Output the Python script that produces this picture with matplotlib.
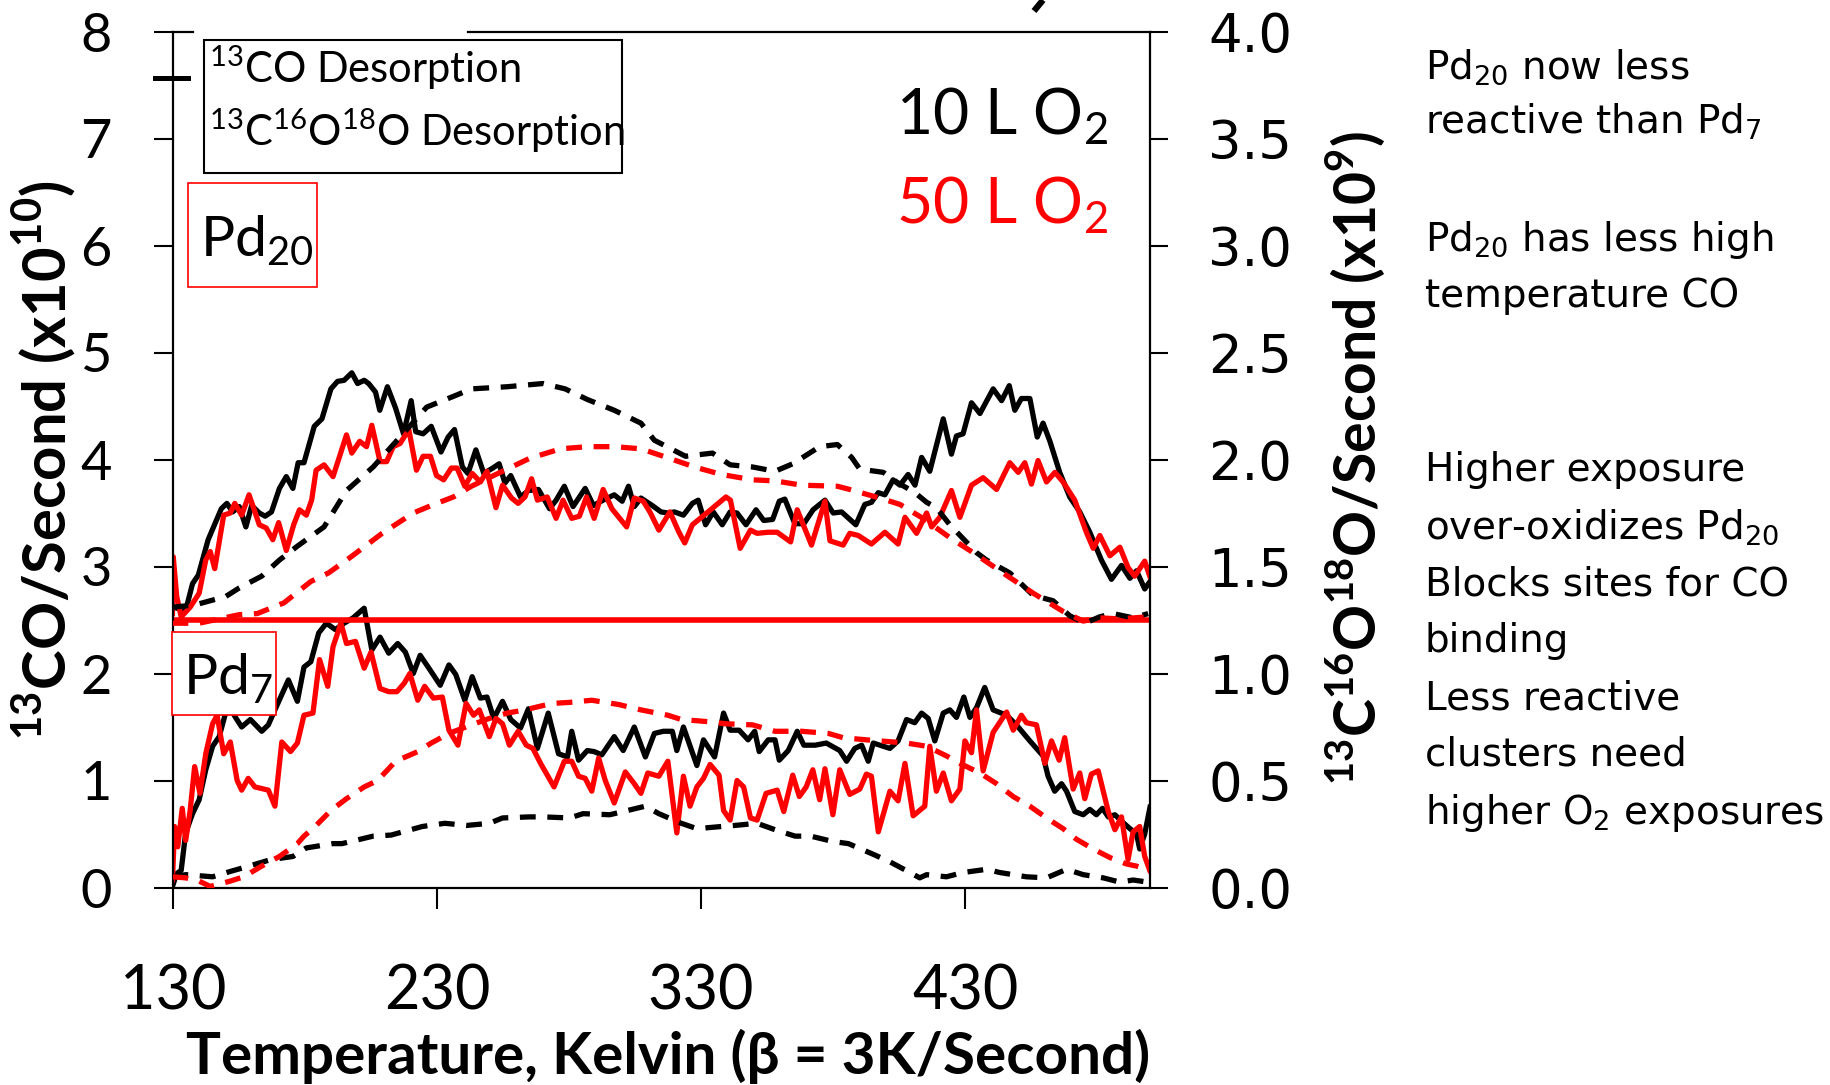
import numpy as np
import matplotlib
matplotlib.use('Agg')
import matplotlib.pyplot as plt
from matplotlib.patches import Rectangle
from matplotlib.lines import Line2D

# [temperature K, value]
# solid = 13CO (left axis), dashed = 13C16O18O (right axis, x1e9)
# Pd20 traces sit on an offset of 2.5 (left) / 1.25 (right)
pd20_10L_co = [
    [130, 2.62], [134.8, 2.59], [137.4, 2.84], [139.6, 2.92], [143.3, 3.25], [148.3, 3.54],
    [150.4, 3.59], [152.6, 3.51], [155.1, 3.56], [157.6, 3.37], [159.8, 3.57], [162.7, 3.50],
    [164.9, 3.47], [167.3, 3.51], [170.3, 3.73], [172.9, 3.84], [175.4, 3.73], [177.4, 3.97],
    [179.6, 3.97], [183.5, 4.31], [186.4, 4.38], [189.8, 4.66], [192.3, 4.73], [194.8, 4.74],
    [197.7, 4.81], [199.9, 4.71], [202.4, 4.74], [204.1, 4.71], [206.7, 4.63], [208.3, 4.46],
    [211.2, 4.68], [214.3, 4.48], [217.3, 4.24], [220.2, 4.55], [221.9, 4.26], [224.7, 4.24],
    [227.8, 4.31], [231.5, 4.07], [234.2, 4.21], [236.6, 4.28], [239.6, 3.93], [241.7, 3.87],
    [244.7, 4.09], [247.7, 3.87], [251.1, 3.92], [253.5, 3.96], [255.7, 3.78], [257.9, 3.85],
    [261.6, 3.65], [264.6, 3.71], [268.4, 3.72], [272.6, 3.54], [275.1, 3.62], [278.2, 3.75],
    [281.5, 3.56], [286.1, 3.73], [289.2, 3.57], [292.9, 3.62], [297.1, 3.67], [300.1, 3.61],
    [302.5, 3.75], [304.7, 3.56], [307.2, 3.64], [311.5, 3.57], [314.8, 3.51], [317.4, 3.50],
    [319.9, 3.51], [323.3, 3.48], [326.7, 3.59], [328.9, 3.62], [331.7, 3.39], [334.6, 3.51],
    [338.0, 3.39], [341.0, 3.51], [343.6, 3.50], [347.0, 3.39], [350.8, 3.53], [353.7, 3.43],
    [357.1, 3.44], [359.6, 3.61], [361.7, 3.63], [365.5, 3.40], [368.9, 3.40], [372.4, 3.53],
    [376.9, 3.62], [380.0, 3.50], [383.2, 3.51], [388.6, 3.39], [392.0, 3.58], [394.5, 3.60],
    [397.1, 3.69], [399.6, 3.67], [402.7, 3.81], [405.3, 3.76], [408.4, 3.86], [411.0, 3.76],
    [413.5, 4.02], [416.6, 3.89], [421.7, 4.38], [424.8, 4.05], [426.7, 4.22], [429.2, 4.24],
    [432.4, 4.53], [435.6, 4.43], [440.6, 4.66], [443.8, 4.55], [446.7, 4.69], [448.8, 4.46],
    [451.3, 4.57], [454.5, 4.57], [457.3, 4.21], [459.5, 4.34], [462.1, 4.17], [465.8, 3.88],
    [469.6, 3.65], [473.4, 3.51], [477.2, 3.32], [481.6, 3.06], [485.4, 2.88], [489.2, 3.01],
    [492.4, 2.89], [494.9, 2.96], [498.0, 2.79], [500, 2.86],
]
pd20_50L_co = [
    [129.8, 2.56], [130.1, 3.09], [131.4, 2.72], [133.1, 2.53], [136.5, 2.62], [139.9, 2.75],
    [142.4, 3.06], [144.1, 3.14], [145.8, 2.98], [149.2, 3.48], [151.7, 3.50], [153.4, 3.59],
    [156.0, 3.48], [158.8, 3.67], [162.7, 3.39], [165.3, 3.36], [167.8, 3.25], [170.0, 3.41],
    [172.9, 3.15], [175.7, 3.39], [177.9, 3.53], [180.5, 3.48], [182.5, 3.62], [184.2, 3.90],
    [187.2, 3.95], [190.6, 3.84], [193.1, 4.03], [195.7, 4.23], [197.7, 4.06], [200.7, 4.17],
    [203.3, 4.12], [205.3, 4.32], [208.4, 3.98], [210.9, 3.98], [213.4, 4.12], [216.0, 4.15],
    [219.3, 4.28], [222.2, 3.90], [224.7, 4.03], [227.5, 4.03], [229.8, 3.85], [232.5, 3.81],
    [235.4, 3.92], [237.6, 3.92], [240.5, 3.75], [243.3, 3.87], [246.4, 3.79], [248.9, 3.89],
    [252.3, 3.55], [254.8, 3.76], [258.2, 3.64], [260.7, 3.59], [263.3, 3.65], [265.8, 3.82],
    [268.0, 3.62], [271.7, 3.65], [275.1, 3.45], [277.7, 3.62], [281.0, 3.45], [283.9, 3.47],
    [286.6, 3.65], [289.5, 3.45], [292.9, 3.72], [296.2, 3.54], [301.8, 3.37], [304.7, 3.64],
    [308.1, 3.61], [310.6, 3.51], [314.0, 3.34], [318.2, 3.51], [321.6, 3.32], [323.8, 3.22],
    [326.7, 3.39], [332.6, 3.51], [339.4, 3.65], [341.1, 3.62], [344.8, 3.17], [348.7, 3.34],
    [351.2, 3.31], [355.4, 3.32], [358.8, 3.32], [363.9, 3.23], [366.4, 3.53], [371.8, 3.20],
    [376.9, 3.61], [378.8, 3.24], [383.8, 3.20], [386.3, 3.31], [389.5, 3.29], [394.5, 3.21],
    [399.6, 3.32], [404.6, 3.21], [407.2, 3.46], [411.6, 3.31], [415.4, 3.50], [417.3, 3.37],
    [420.4, 3.46], [424.8, 3.71], [428.0, 3.46], [432.4, 3.76], [436.8, 3.83], [441.9, 3.72],
    [446.9, 3.97], [450.1, 3.88], [452.6, 3.97], [455.1, 3.77], [457.6, 3.99], [460.8, 3.79],
    [464.0, 3.88], [467.1, 3.79], [471.5, 3.62], [475.9, 3.32], [478.5, 3.17], [481.0, 3.29],
    [484.8, 3.10], [488.6, 3.18], [491.7, 2.99], [494.2, 2.91], [498.0, 3.05], [499.9, 2.91],
]
pd20_10L_o2 = [
    [129.8, 1.31], [138.2, 1.32], [150.0, 1.36], [155.1, 1.40], [163.6, 1.455], [170.3, 1.53],
    [177.1, 1.595], [187.2, 1.685], [195.7, 1.855], [205.8, 1.965], [216.0, 2.105], [226.1, 2.245],
    [236.2, 2.295], [243.0, 2.33], [256.5, 2.34], [270.1, 2.355], [278.5, 2.33], [287.0, 2.28],
    [297.1, 2.23], [307.2, 2.17], [312.3, 2.09], [324.1, 2.015], [334.3, 2.03], [341.0, 1.975],
    [349.5, 1.965], [358.0, 1.945], [364.7, 1.98], [374.9, 2.06], [381.6, 2.07], [387.0, 2.01],
    [390.1, 1.955], [399.0, 1.94], [404.0, 1.895], [411.0, 1.845], [415.4, 1.80], [419.1, 1.775],
    [424.2, 1.695], [434.3, 1.565], [438.1, 1.53], [446.9, 1.47], [455.8, 1.365], [463.3, 1.34],
    [469.6, 1.27], [475.3, 1.235], [481.0, 1.265], [486.0, 1.28], [493.6, 1.26], [499.3, 1.28],
]
pd20_50L_o2 = [
    [129.8, 1.235], [139.9, 1.235], [155.1, 1.275], [161.9, 1.28], [172.0, 1.33], [182.2, 1.43],
    [188.9, 1.47], [197.4, 1.545], [209.2, 1.655], [221.0, 1.75], [227.8, 1.785], [236.2, 1.825],
    [243.0, 1.875], [253.1, 1.935], [265.0, 2.005], [276.8, 2.05], [287.0, 2.06], [297.1, 2.06],
    [307.2, 2.05], [315.7, 2.015], [327.5, 1.965], [337.7, 1.93], [349.5, 1.905], [358.0, 1.90],
    [368.1, 1.88], [381.6, 1.875], [386.3, 1.86], [399.0, 1.815], [405.3, 1.79], [414.0, 1.725],
    [424.2, 1.635], [433.0, 1.565], [443.1, 1.48], [455.8, 1.375], [467.1, 1.29], [474.7, 1.245],
    [481.0, 1.26], [488.6, 1.255], [499.3, 1.265],
]
pd7_10L_co = [
    [129.8, 0.01], [131.4, 0.13], [133.1, 0.16], [134.8, 0.51], [137.4, 0.69], [139.9, 0.82],
    [142.4, 1.10], [145.0, 1.32], [147.5, 1.41], [150.9, 1.72], [153.4, 1.60], [156.0, 1.50],
    [159.3, 1.57], [163.6, 1.46], [166.1, 1.52], [168.6, 1.66], [173.7, 1.94], [177.1, 1.74],
    [179.6, 2.06], [182.2, 2.11], [185.2, 2.38], [188.1, 2.47], [191.5, 2.41], [194.8, 2.47],
    [198.2, 2.52], [202.4, 2.61], [205.3, 2.22], [208.4, 2.34], [211.7, 2.19], [215.1, 2.28],
    [218.0, 2.20], [221.0, 2.00], [223.6, 2.17], [226.9, 2.05], [231.2, 1.89], [234.5, 2.08],
    [237.1, 1.99], [240.5, 1.75], [243.3, 1.97], [246.4, 1.77], [248.9, 1.78], [251.5, 1.58],
    [254.8, 1.74], [257.9, 1.57], [261.6, 1.49], [264.6, 1.67], [268.0, 1.30], [272.1, 1.63],
    [276.0, 1.25], [279.4, 1.22], [281.0, 1.46], [283.6, 1.19], [286.9, 1.28], [289.5, 1.27],
    [292.4, 1.24], [297.1, 1.41], [300.5, 1.28], [304.7, 1.50], [308.9, 1.22], [312.3, 1.44],
    [315.7, 1.46], [319.1, 1.46], [320.8, 1.28], [323.3, 1.50], [328.4, 1.14], [330.9, 1.38],
    [335.1, 1.22], [338.5, 1.63], [341.0, 1.47], [344.4, 1.47], [347.8, 1.38], [350.3, 1.46],
    [352.0, 1.27], [355.4, 1.38], [358.0, 1.38], [359.6, 1.19], [363.0, 1.28], [366.4, 1.46],
    [368.9, 1.33], [373.2, 1.33], [377.4, 1.35], [382.5, 1.28], [385.1, 1.18], [388.2, 1.30],
    [390.8, 1.33], [393.3, 1.18], [395.2, 1.35], [401.5, 1.30], [404.6, 1.37], [407.8, 1.57],
    [410.9, 1.54], [413.5, 1.63], [416.0, 1.58], [418.5, 1.37], [421.7, 1.63], [424.2, 1.66],
    [426.7, 1.59], [429.5, 1.78], [431.8, 1.59], [434.3, 1.68], [437.4, 1.87], [440.6, 1.66],
    [445.7, 1.61], [449.4, 1.52], [454.5, 1.37], [459.5, 1.23], [461.4, 1.04], [463.9, 0.90],
    [466.5, 0.97], [468.4, 0.90], [471.5, 0.71], [474.7, 0.68], [477.2, 0.73], [479.7, 0.68],
    [482.0, 0.74], [484.2, 0.66], [486.7, 0.68], [489.2, 0.62], [492.4, 0.55], [494.9, 0.50],
    [496.1, 0.36], [498.0, 0.50], [500, 0.75],
]
pd7_50L_co = [
    [129.8, 0.07], [130.6, 0.57], [131.8, 0.38], [133.5, 0.74], [134.8, 0.44], [136.5, 0.72],
    [138.2, 1.13], [140.2, 0.88], [142.4, 1.25], [145.0, 1.53], [146.7, 1.61], [149.2, 1.25],
    [151.7, 1.36], [154.3, 1.00], [156.0, 0.91], [158.5, 1.02], [161.0, 0.94], [166.1, 0.91],
    [168.6, 0.76], [171.2, 1.36], [174.5, 1.27], [177.1, 1.35], [179.6, 1.61], [183.0, 1.63],
    [185.5, 2.13], [188.6, 1.88], [190.6, 2.25], [193.6, 2.47], [195.7, 2.28], [199.1, 2.30],
    [202.4, 2.05], [205.0, 2.20], [208.4, 1.86], [211.7, 1.83], [214.8, 1.83], [217.6, 1.91],
    [219.7, 2.00], [222.7, 1.75], [225.3, 1.88], [228.6, 1.77], [232.0, 1.78], [234.5, 1.47],
    [237.9, 1.33], [241.0, 1.72], [243.8, 1.61], [246.0, 1.66], [249.8, 1.41], [252.3, 1.58],
    [254.8, 1.53], [257.4, 1.33], [260.7, 1.46], [263.8, 1.33], [266.3, 1.30], [269.2, 1.16],
    [274.3, 0.94], [278.2, 1.18], [281.0, 1.18], [283.6, 1.04], [286.1, 1.02], [288.6, 0.90],
    [291.2, 1.21], [293.7, 1.00], [297.1, 0.79], [301.3, 1.08], [304.7, 0.97], [307.2, 0.88],
    [309.8, 1.07], [314.0, 1.04], [317.4, 1.18], [320.8, 0.51], [323.3, 1.04], [325.8, 0.76],
    [328.4, 0.94], [330.9, 1.02], [333.4, 1.15], [336.8, 1.05], [338.5, 0.72], [341.0, 0.63],
    [343.6, 1.00], [346.1, 0.94], [348.7, 0.65], [351.2, 0.63], [354.6, 0.88], [358.8, 0.91],
    [361.3, 0.71], [364.7, 1.05], [367.2, 0.85], [369.8, 0.94], [372.3, 1.10], [374.9, 0.82],
    [376.9, 1.11], [379.9, 0.68], [382.5, 1.10], [386.3, 0.87], [390.1, 0.92], [392.6, 1.06],
    [394.5, 1.04], [397.1, 0.52], [401.5, 0.90], [404.6, 0.81], [407.2, 1.16], [410.3, 0.67],
    [414.7, 0.76], [416.6, 1.32], [419.1, 0.90], [421.7, 1.07], [424.8, 0.81], [428.0, 0.92],
    [429.9, 1.37], [432.4, 1.26], [434.3, 1.66], [436.8, 1.09], [440.6, 1.45], [445.7, 1.64],
    [448.2, 1.47], [451.3, 1.61], [453.2, 1.54], [457.0, 1.52], [460.2, 1.16], [462.7, 1.37],
    [465.6, 1.19], [467.7, 1.40], [470.9, 0.92], [473.4, 1.07], [475.3, 0.83], [477.8, 1.06],
    [480.4, 1.09], [484.2, 0.71], [486.7, 0.54], [489.2, 0.66], [491.7, 0.26], [493.6, 0.52],
    [496.1, 0.57], [498.0, 0.29], [499.9, 0.16],
]
pd7_10L_o2 = [
    [129.8, 0.05], [134.8, 0.06], [145.0, 0.05], [151.7, 0.075], [160.2, 0.105], [166.9, 0.13],
    [175.4, 0.145], [180.5, 0.185], [190.6, 0.205], [194.0, 0.205], [205.8, 0.24], [212.6, 0.245],
    [224.4, 0.285], [232.9, 0.30], [241.3, 0.29], [249.8, 0.30], [254.8, 0.325], [265.0, 0.33],
    [270.1, 0.33], [280.2, 0.325], [285.3, 0.345], [295.4, 0.34], [300.5, 0.355], [308.9, 0.38],
    [314.0, 0.345], [322.5, 0.30], [328.4, 0.275], [337.7, 0.285], [342.8, 0.29], [351.2, 0.30],
    [358.0, 0.27], [365.6, 0.24], [371.5, 0.24], [379.9, 0.215], [385.8, 0.205], [395.2, 0.155],
    [401.5, 0.12], [409.1, 0.07], [412.8, 0.045], [415.4, 0.06], [422.9, 0.05], [429.2, 0.07],
    [438.1, 0.085], [443.1, 0.07], [453.2, 0.05], [460.8, 0.045], [468.4, 0.085], [474.7, 0.06],
    [482.3, 0.045], [488.6, 0.025], [493.6, 0.035], [499.3, 0.025],
]
pd7_50L_o2 = [
    [129.8, 0.05], [134.8, 0.045], [139.9, 0.03], [144.1, 0.005], [151.7, 0.03], [156.8, 0.05],
    [163.6, 0.10], [170.3, 0.145], [177.1, 0.205], [179.6, 0.24], [183.8, 0.285], [189.8, 0.36],
    [195.7, 0.415], [202.4, 0.47], [207.5, 0.50], [214.3, 0.59], [222.7, 0.635], [227.8, 0.675],
    [234.5, 0.72], [243.0, 0.76], [249.8, 0.79], [256.5, 0.815], [263.3, 0.83], [273.4, 0.86],
    [280.2, 0.865], [288.6, 0.875], [298.8, 0.855], [307.2, 0.83], [317.4, 0.805], [322.5, 0.785],
    [332.6, 0.775], [339.4, 0.765], [349.5, 0.76], [358.0, 0.73], [368.1, 0.73], [378.2, 0.72],
    [383.8, 0.70], [392.6, 0.69], [397.7, 0.685], [407.8, 0.675], [415.4, 0.66], [422.9, 0.615],
    [428.0, 0.58], [435.6, 0.535], [441.9, 0.485], [448.2, 0.425], [454.5, 0.38], [461.4, 0.32],
    [467.1, 0.275], [472.2, 0.225], [478.5, 0.18], [484.8, 0.14], [491.1, 0.11], [494.9, 0.10],
    [499.3, 0.08],
]

x_ticks = [130, 230, 330, 430]
left_ticks = [0, 1, 2, 3, 4, 5, 6, 7, 8]
right_ticks = [0.0, 0.5, 1.0, 1.5, 2.0, 2.5, 3.0, 3.5, 4.0]

notes = [
    ('Pd$_{\\mathregular{20}}$ now less', 79),
    ('reactive than Pd$_{\\mathregular{7}}$', 134),
    ('Pd$_{\\mathregular{20}}$ has less high', 251),
    ('temperature CO', 307),
    ('Higher exposure', 481),
    ('over-oxidizes Pd$_{\\mathregular{20}}$', 539),
    ('Blocks sites for CO', 596),
    ('binding', 652),
    ('Less reactive', 710),
    ('clusters need', 766),
    ('higher O$_{\\mathregular{2}}$ exposures', 824),
]

W, H = 1831, 1085
RED = '#ff0000'
LATO = ['Lato', 'DejaVu Sans']
NARROW = ['Liberation Sans Narrow', 'Lato', 'DejaVu Sans']


def fx(x):
    return x / W


def fy(y):
    return 1 - y / H


fig = plt.figure(figsize=(W / 100, H / 100), dpi=100)
ax = fig.add_axes([fx(173), fy(887.5), 977 / W, 856 / H])
ax2 = ax.twinx()

lw = 3.8
dash = (0, (3.0, 2.2))
for data, c in [(pd20_10L_co, 'black'), (pd20_50L_co, RED), (pd7_10L_co, 'black'), (pd7_50L_co, RED)]:
    d = np.array(data)
    ax.plot(d[:, 0], d[:, 1], color=c, lw=lw)
for data, c in [(pd20_10L_o2, 'black'), (pd20_50L_o2, RED), (pd7_10L_o2, 'black'), (pd7_50L_o2, RED)]:
    d = np.array(data)
    ax2.plot(d[:, 0], d[:, 1], color=c, lw=lw, linestyle=dash)
# separator between the Pd20 and Pd7 panels
ax.axhline(2.5, color=RED, lw=4.0)

ax.set_xlim(130, 500)
ax.set_ylim(0, 8)
ax2.set_ylim(0, 4)
ax.set_xticks(x_ticks)
ax.set_yticks(left_ticks)
ax2.set_yticks(right_ticks)
ax2.set_yticklabels([f'{v:.1f}' for v in right_ticks])

for s in ['top', 'right']:
    ax.spines[s].set_visible(False)
for s in ['top', 'left', 'bottom']:
    ax2.spines[s].set_visible(False)
for s in ['left', 'bottom']:
    ax.spines[s].set_linewidth(1.6)
ax2.spines['right'].set_linewidth(1.6)

ax.tick_params(axis='y', direction='out', length=14, width=1.5, pad=30, labelsize=39, labelfontfamily='Lato')
ax.tick_params(axis='x', direction='out', length=15, width=1.5, pad=40, labelsize=44, labelfontfamily='Lato')
ax2.tick_params(axis='y', direction='out', length=13, width=1.5, pad=29, labelsize=38)

# top frame is broken where a title box sat over it
ax.plot([0, 0.02], [1, 1], transform=ax.transAxes, color='black', lw=1.6, clip_on=False)
ax.plot([0.302, 1], [1, 1], transform=ax.transAxes, color='black', lw=1.6, clip_on=False)
# tail of a title glyph cut off by the top edge
fig.add_artist(Line2D([fx(1043), fx(1034)], [fy(0), fy(11)], transform=fig.transFigure,
                      color='black', lw=4.5, solid_capstyle='butt'))

# legend box
fig.add_artist(Line2D([fx(155), fx(188)], [fy(78), fy(78)], transform=fig.transFigure, color='black', lw=3.6))
fig.add_artist(Rectangle((fx(204), fy(173)), 418 / W, 133 / H, transform=fig.transFigure,
                         facecolor='white', edgecolor='black', lw=1.5))
fig.text(fx(209), fy(83), '$^{\\mathregular{13}}$CO Desorption', fontsize=30, family=LATO, va='baseline')
fig.text(fx(209), fy(146), '$^{\\mathregular{13}}$C$^{\\mathregular{16}}$O$^{\\mathregular{18}}$O Desorption',
         fontsize=30, family=LATO, va='baseline')

# cluster labels
fig.add_artist(Rectangle((fx(188), fy(287)), 129 / W, 104 / H, transform=fig.transFigure,
                         facecolor='white', edgecolor=RED, lw=1.2))
fig.text(fx(200), fy(257), 'Pd$_{\\mathregular{20}}$', fontsize=41, family=LATO, va='baseline')
fig.add_artist(Rectangle((fx(172), fy(715)), 104 / W, 83 / H, transform=fig.transFigure,
                         facecolor='white', edgecolor=RED, lw=1.2))
fig.text(fx(183), fy(695), 'Pd$_{\\mathregular{7}}$', fontsize=41, family=LATO, va='baseline')

fig.text(fx(1108), fy(135), '10 L O$_{\\mathregular{2}}$', fontsize=45, family=LATO, ha='right', va='baseline')
fig.text(fx(1108), fy(224), '50 L O$_{\\mathregular{2}}$', fontsize=45, family=LATO, ha='right', va='baseline',
         color=RED)

# axis titles
fig.text(fx(668), fy(1074), 'Temperature, Kelvin (\u03b2 = 3K/Second)', fontsize=42, fontweight='bold',
         family=NARROW, ha='center', va='baseline')
fig.text(fx(44), fy(460), '$^{\\mathregular{13}}$CO/Second (x10$^{\\mathregular{10}}$)', fontsize=43,
         fontweight='bold', family=NARROW, rotation=90, ha='center', va='center')
fig.text(fx(1355), fy(458), '$^{\\mathregular{13}}$C$^{\\mathregular{16}}$O$^{\\mathregular{18}}$O/Second (x10$^{\\mathregular{9}}$)',
         fontsize=41, fontweight='bold', family=NARROW, rotation=90, ha='center', va='center')

for txt, y in notes:
    fig.text(fx(1425), fy(y), txt, fontsize=28, va='baseline', ha='left')

fig.savefig('out.png', dpi=100)
